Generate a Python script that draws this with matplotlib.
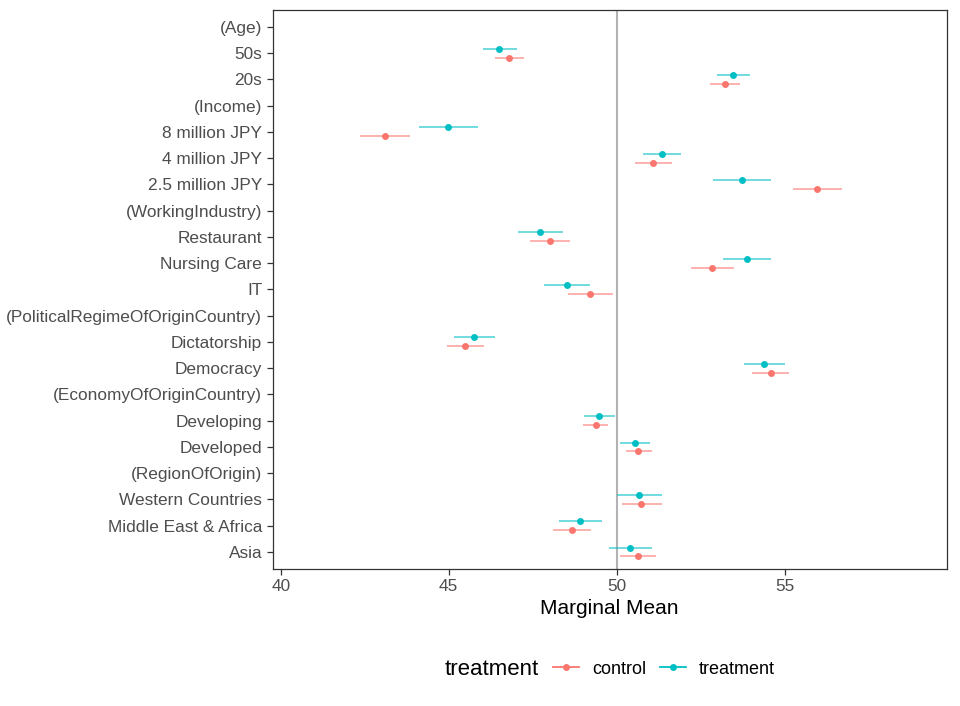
import numpy as np
import matplotlib.pyplot as plt
from matplotlib.lines import Line2D
from matplotlib.offsetbox import HPacker

plt.rcParams['font.family'] = ['Liberation Sans', 'DejaVu Sans']

# rows from top to bottom; headers have no estimate
levels = ["(Age)", "50s", "20s", "(Income)", "8 million JPY", "4 million JPY",
          "2.5 million JPY", "(WorkingIndustry)", "Restaurant", "Nursing Care", "IT",
          "(PoliticalRegimeOfOriginCountry)", "Dictatorship", "Democracy",
          "(EconomyOfOriginCountry)", "Developing", "Developed", "(RegionOfOrigin)",
          "Western Countries", "Middle East & Africa", "Asia"]

nan = np.nan
control_est = [nan, 46.80, 53.22, nan, 43.11, 51.08, 55.97, nan, 48.02, 52.84, 49.21,
               nan, 45.48, 54.58, nan, 49.38, 50.65, nan, 50.73, 48.67, 50.64]
control_lo = [nan, 46.37, 52.79, nan, 42.37, 50.54, 55.26, nan, 47.42, 52.20, 48.54,
              nan, 44.94, 54.02, nan, 48.99, 50.28, nan, 50.15, 48.10, 50.09]
control_hi = [nan, 47.25, 53.68, nan, 43.85, 51.65, 56.70, nan, 48.62, 53.49, 49.89,
              nan, 46.04, 55.13, nan, 49.75, 51.04, nan, 51.34, 49.24, 51.17]

treat_est = [nan, 46.51, 53.47, nan, 44.98, 51.34, 53.73, nan, 47.73, 53.88, 48.51,
             nan, 45.76, 54.40, nan, 49.48, 50.54, nan, 50.68, 48.91, 50.40]
treat_lo = [nan, 46.02, 52.98, nan, 44.13, 50.77, 52.87, nan, 47.07, 53.18, 47.83,
            nan, 45.17, 53.79, nan, 49.03, 50.09, nan, 50.02, 48.27, 49.77]
treat_hi = [nan, 47.03, 53.97, nan, 45.87, 51.93, 54.59, nan, 48.40, 54.60, 49.22,
            nan, 46.37, 55.02, nan, 49.95, 51.00, nan, 51.34, 49.57, 51.06]

col_control = "#F8766D"
col_treat = "#00BFC4"

fig = plt.figure(figsize=(9.6, 7.06), dpi=100)
ax = fig.add_axes([0.284, 0.194, 0.702, 0.792])

n = len(levels)
y = np.arange(n)[::-1].astype(float)
dodge = 0.17

ax.axvline(50, color="#B3B3B3", lw=1.5, zorder=1)

for est, lo, hi, col, off in [(control_est, control_lo, control_hi, col_control, -dodge),
                               (treat_est, treat_lo, treat_hi, col_treat, dodge)]:
    est = np.array(est)
    lo = np.array(lo)
    hi = np.array(hi)
    yy = y + off
    ok = ~np.isnan(est)
    ax.hlines(yy[ok], lo[ok], hi[ok], color=col, alpha=0.6, lw=1.3, zorder=2)
    ax.plot(est[ok], yy[ok], "o", color=col, ms=5, zorder=3, mec="none")

ax.set_yticks(y)
ax.set_yticklabels(levels)
ax.set_ylim(-0.65, n - 1 + 0.65)
ax.set_xlim(39.76, 59.82)
ax.set_xticks([40, 45, 50, 55])

for s in ax.spines.values():
    s.set_color("#333333")
    s.set_linewidth(0.9)
ax.tick_params(axis="both", colors="#333333", labelcolor="#4D4D4D", labelsize=12.4,
               length=4, width=0.9)
ax.set_xlabel("Marginal Mean", fontsize=15, color="black", labelpad=3)

handles = [Line2D([0], [0], color=col_control, marker="o", ms=5, lw=1.3, mec="none"),
           Line2D([0], [0], color=col_treat, marker="o", ms=5, lw=1.3, mec="none")]
leg = fig.legend(handles, ["control", "treatment"], title="treatment", loc="center",
                 bbox_to_anchor=(0.635, 0.052), ncol=2, frameon=False, fontsize=13,
                 title_fontsize=16, handlelength=1.45, columnspacing=0.75,
                 handletextpad=0.7)
# put title on the left of the entries
title_box = leg._legend_title_box
handle_box = leg._legend_handle_box
leg._legend_box._children = [HPacker(children=[title_box, handle_box], pad=0, sep=10,
                                     align="center")]

fig.savefig("out.png", dpi=100)
